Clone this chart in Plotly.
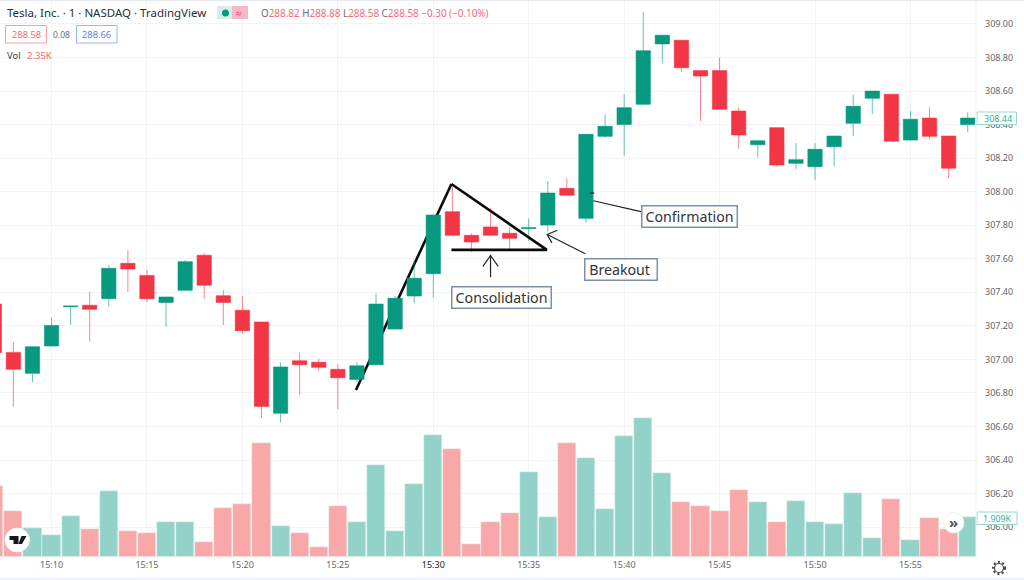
import plotly.graph_objects as go

# minute bars
times = [f"2021-06-01 15:{m:02d}" for m in range(7, 59)]
opens = [307.33, 307.042, 306.917, 307.08, 307.314, 307.323, 307.362, 307.573, 307.501, 307.34,
         307.412, 307.621, 307.38, 307.293, 307.223, 306.679, 306.992, 306.983, 306.941, 306.881,
         306.968, 307.181, 307.378, 307.511, 307.881, 307.74, 307.79, 307.752, 307.78, 307.801,
         308.02, 307.841, 308.33, 308.4, 308.521, 308.881, 308.903, 308.722, 308.722, 308.481,
         308.28, 308.382, 308.169, 308.149, 308.268, 308.408, 308.557, 308.581, 308.308, 308.439,
         308.332, 308.4]
highs = [307.33, 307.104, 307.076, 307.251, 307.318, 307.402, 307.563, 307.652, 307.533, 307.372,
         307.593, 307.633, 307.414, 307.38, 307.223, 306.983, 307.042, 307.004, 306.971, 306.984,
         307.394, 307.378, 307.593, 307.861, 308.03, 307.752, 307.901, 307.791, 307.841, 308.064,
         308.08, 308.342, 308.462, 308.581, 309.073, 308.933, 308.903, 308.722, 308.799, 308.501,
         308.304, 308.382, 308.29, 308.29, 308.332, 308.581, 308.6, 308.581, 308.481, 308.503,
         308.332, 308.473]
lows = [307.04, 306.718, 306.865, 307.08, 307.205, 307.106, 307.314, 307.402, 307.344, 307.195,
        307.412, 307.364, 307.205, 307.153, 306.652, 306.625, 306.786, 306.933, 306.704, 306.865,
        306.968, 307.181, 307.335, 307.368, 307.74, 307.642, 307.74, 307.652, 307.706, 307.761,
        307.979, 307.815, 308.322, 308.215, 308.521, 308.766, 308.716, 308.423, 308.491, 308.255,
        308.203, 308.149, 308.135, 308.07, 308.151, 308.332, 308.462, 308.301, 308.304, 308.312,
        308.08, 308.354]
closes = [307.04, 306.941, 307.076, 307.203, 307.318, 307.299, 307.543, 307.539, 307.362, 307.372,
          307.583, 307.442, 307.34, 307.171, 306.72, 306.955, 306.968, 306.953, 306.891, 306.962,
          307.33, 307.364, 307.484, 307.861, 307.74, 307.7, 307.74, 307.722, 307.785, 307.992,
          307.979, 308.342, 308.39, 308.501, 308.841, 308.933, 308.739, 308.69, 308.491, 308.338,
          308.304, 308.159, 308.191, 308.253, 308.332, 308.509, 308.6, 308.301, 308.432, 308.33,
          308.14, 308.439]
volumes = [3.43, 2.2, 1.39, 1.04, 1.97, 1.33, 3.17, 1.23, 1.17, 1.67, 1.7, 0.71, 2.37, 2.56, 5.47,
           1.47, 1.17, 0.46, 2.47, 1.7, 4.44, 1.27, 3.51, 5.87, 5.21, 0.61, 1.67, 2.13, 4.07, 1.91,
           5.47, 4.76, 2.31, 5.84, 6.67, 4.04, 2.65, 2.44, 2.21, 3.21, 2.65, 1.7, 2.71, 1.7, 1.6,
           3.08, 0.91, 2.77, 0.83, 1.88, 1.33, 1.909]

# axis labels
price_ticks = [306 + 0.2 * i for i in range(16)]
time_ticks = [f"2021-06-01 15:{m:02d}" for m in range(10, 60, 5)]
time_labels = ["15:10", "15:15", "15:20", "15:25", '<span style="color:#222222">15:30</span>',
               "15:35", "15:40", "15:45", "15:50", "15:55"]

# hand drawn pattern: the rising leg sits behind the candles, the triangle in front
leg_x = ["2021-06-01 15:25:57", "2021-06-01 15:30:57"]
leg_y = [306.818, 308.046]
triangle_x = ["2021-06-01 15:30:57", "2021-06-01 15:35:57", "2021-06-01 15:30:57"]
triangle_y = [308.046, 307.653, 307.653]
# thin pen strokes, None breaks the line
pen_x = ["2021-06-01 15:33:00", "2021-06-01 15:33:00", None,
         "2021-06-01 15:32:36", "2021-06-01 15:33:00", "2021-06-01 15:33:24", None,
         "2021-06-01 15:37:58", "2021-06-01 15:35:58", None,
         "2021-06-01 15:36:30", "2021-06-01 15:35:58", "2021-06-01 15:36:13", None,
         "2021-06-01 15:38:23", "2021-06-01 15:40:53", None,
         "2021-06-01 15:38:12", "2021-06-01 15:38:26"]
pen_y = [307.49, 307.62, None,
         307.555, 307.62, 307.555, None,
         307.63, 307.745, None,
         307.77, 307.745, 307.695, None,
         307.946, 307.881, None,
         307.992, 307.992]

GREEN, RED = "#089981", "#f23645"
GREEN_VOL, RED_VOL = "#93d2c9", "#f9a8a9"
GRID = "#f3f3f6"
FONT = "Noto Sans"
W, H = 1024, 580
PLOT_R, PLOT_B = 976, 557
PRICE_RANGE = [305.822, 309.143]
vol_colors = [GREEN_VOL if c >= o else RED_VOL for o, c in zip(opens, closes)]

fig = go.Figure()
# scatter always paints over candles inside one subplot, so the leg gets the bottom one
fig.add_trace(go.Scatter(x=leg_x, y=leg_y, mode="lines", line=dict(color="#0b0b0b", width=2.6)))
fig.add_trace(go.Bar(x=times, y=volumes, width=57000, marker_color=vol_colors,
                     marker_line_color="#eaf6f4", marker_line_width=0.5, yaxis="y2"))
fig.add_trace(go.Candlestick(
    x=times, open=opens, high=highs, low=lows, close=closes, yaxis="y3",
    increasing=dict(line=dict(color="rgba(8,153,129,0.6)", width=1), fillcolor=GREEN),
    decreasing=dict(line=dict(color="rgba(242,54,69,0.6)", width=1), fillcolor=RED),
    whiskerwidth=0,
))
fig.add_trace(go.Scatter(x=triangle_x, y=triangle_y, mode="lines", yaxis="y3",
                         line=dict(color="#0b0b0b", width=2.6)))
fig.add_trace(go.Scatter(x=pen_x, y=pen_y, mode="lines", yaxis="y3", line=dict(color="#222222", width=1.2)))


def label(text, x, y, size=9.5, color="#555555", anchor="left", **kw):
    # text placed by window pixels, the chart furniture of the screenshot
    fig.add_annotation(xref="paper", yref="paper", x=x / W, y=1 - y / H, text=text, showarrow=False,
                       xanchor=anchor, yanchor="middle", font=dict(family=FONT, size=size, color=color),
                       borderpad=0, **kw)


def pill(x0, y0, x1, y1, fill, line="rgba(0,0,0,0)", kind="rect", width=1, dash="solid"):
    fig.add_shape(type=kind, xref="paper", yref="paper", x0=x0 / W, x1=x1 / W, y0=1 - y0 / H, y1=1 - y1 / H,
                  fillcolor=fill, line=dict(color=line, width=width, dash=dash), layer="above")


def polygon(points, fill):
    path = "M " + " L ".join(f"{x / W:.5f},{1 - y / H:.5f}" for x, y in points) + " Z"
    fig.add_shape(type="path", xref="paper", yref="paper", path=path, fillcolor=fill,
                  line=dict(width=0), layer="above")


def callout(text, x, y, w, h, align="center"):
    fig.add_annotation(x=x, y=y, text=text, showarrow=False, width=w, height=h, bgcolor="#ffffff",
                       bordercolor="#7d90a4", borderwidth=1.5, borderpad=0, align=align,
                       font=dict(family=FONT, size=14.2, color="#333333"))


callout("Consolidation", "2021-06-01 15:33:33", 307.368, 98, 19.5)
callout("\u00a0Breakout", "2021-06-01 15:39:49", 307.536, 71, 19.5, align="left")
callout("Confirmation", "2021-06-01 15:43:25", 307.855, 94, 19.5)

# header
label("Tesla, Inc. · 1 · NASDAQ · TradingView", 6, 13, size=11.5, color="#2a2e39")
pill(217, 6, 233, 19, "#d9eeea")
pill(232, 6, 248, 19, "#f7b7cb")
pill(222, 9.5, 229, 16.5, GREEN, kind="circle")
label("≈", 239, 12.5, size=10, color="#e0245e", anchor="center")
num = '<span style="color:#f76a74">%s</span>'
label("O" + num % "288.82" + " H" + num % "288.88" + " L" + num % "288.58" + " C" + num % "288.58"
      + " " + num % "−0.30 (−0.10%)", 260, 13, size=9.9, color="#6a6d78")
pill(5.5, 25.5, 46.5, 43, "#ffffff", "#f7a0a6")
label("288.58", 26, 34.5, size=9.3, color="#f76a74", anchor="center")
label("0.08", 61, 34, size=8.5, color="#6a6d78", anchor="center")
pill(76.5, 25.5, 117, 43, "#ffffff", "#9db2f5")
label("288.66", 96.5, 34.5, size=9.3, color="#5b7cf0", anchor="center")
label("Vol", 6, 55.5, size=9.5, color="#444444")
label("2.35K", 26, 55.5, size=9.5, color="#f76a74")

# price and volume tags on the right
pill(977, 112, 1016.5, 124.5, "#ffffff", "#93d8cb")
label("308.44", 998, 118.5, size=9, color="#2fb39e", anchor="center")
pill(977, 512, 1017, 524.5, "#ffffff", "#93d8cb")
label("1.909K", 997, 518.5, size=8.8, color="#2fb39e", anchor="center")

# chart buttons
pill(943.5, 512.5, 964, 533, "#ffffff", "#efeff2", kind="circle")
label("<b>»</b>", 953.5, 521.5, size=15, color="#50535e", anchor="center")
pill(5, 528, 29.5, 552, "#ffffff", "#f3f3f5", kind="circle")
polygon([(9.5, 536), (18.5, 536), (18.5, 544), (13.5, 544), (13.5, 540), (9.5, 540)], "#131722")
polygon([(21.5, 536), (26.5, 536), (22, 544), (18.5, 544)], "#131722")
pill(993, 562, 1005, 574, "rgba(0,0,0,0)", "#444444", kind="circle", width=2, dash="2px,2.4px")
pill(994.5, 563.5, 1003.5, 572.5, "#ffffff", "#444444", kind="circle", width=1.2)

# window edges of the screenshot
pill(0, 0, W, 1.2, "#e9ebf3")
pill(0, 577.5, W, H, "#f0f3fa")
pill(PLOT_R - 0.5, 0, PLOT_R + 0.5, PLOT_B, "#f0f0f3")
pill(0, PLOT_B - 0.5, PLOT_R, PLOT_B + 0.5, "#f0f0f3")

fig.update_layout(
    width=W, height=H, margin=dict(l=0, r=0, t=0, b=0), autosize=False,
    paper_bgcolor="#ffffff", plot_bgcolor="#ffffff", showlegend=False, boxgap=0.25, boxgroupgap=0,
    bargap=0,
    xaxis=dict(domain=[0, PLOT_R / W], range=["2021-06-01 15:07:18", "2021-06-01 15:58:26"],
               type="date", rangeslider=dict(visible=False), tickvals=time_ticks, ticktext=time_labels,
               showgrid=True, gridcolor=GRID, gridwidth=1, zeroline=False, ticks="", ticklabelstandoff=1,
               tickfont=dict(family=FONT, size=9, color="#666666"), anchor="y"),
    yaxis=dict(domain=[1 - PLOT_B / H, 1], range=PRICE_RANGE, side="right", tickvals=price_ticks,
               tickformat=".2f", showgrid=True, gridcolor=GRID, gridwidth=1, zeroline=False, ticks="",
               ticklabelstandoff=8, tickfont=dict(family=FONT, size=9, color="#666666"), anchor="x"),
    yaxis2=dict(domain=[1 - PLOT_B / H, 1], range=[0, 26.8], overlaying="y", side="right", visible=False,
                showgrid=False),
    yaxis3=dict(domain=[1 - PLOT_B / H, 1], range=PRICE_RANGE, overlaying="y", side="right", visible=False,
                showgrid=False),
)

# the default page margin would push the fixed size figure off the window
fig.write_html("out.html", config=dict(displayModeBar=False),
               post_script="document.body.style.margin='0';")
